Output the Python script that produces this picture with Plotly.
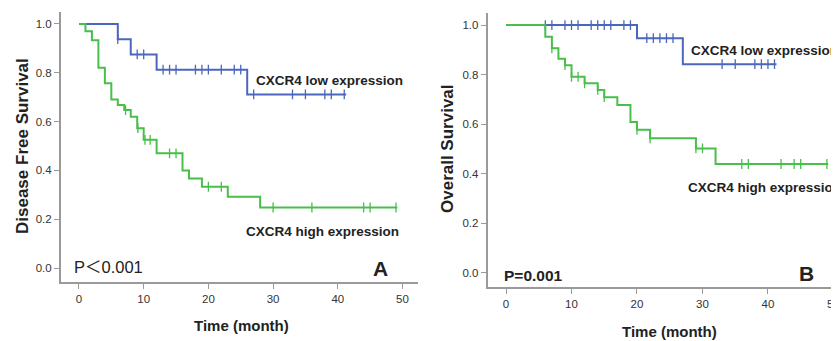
import plotly.graph_objects as go

# ---------------- Data ----------------
# Panel A: Disease free survival
a_low_t = [0, 6, 8, 12, 26]
a_low_s = [1.0, 0.9375, 0.875, 0.8125, 0.711]
a_low_end = 41.3
a_low_cens_t = [6, 9, 10, 13, 14, 15, 18, 19, 20, 22, 24, 25, 27, 33, 35, 38, 39, 41]
a_low_cens_s = [0.9375, 0.875, 0.875, 0.8125, 0.8125, 0.8125, 0.8125, 0.8125, 0.8125,
                0.8125, 0.8125, 0.8125, 0.711, 0.711, 0.711, 0.711, 0.711, 0.711]

a_high_t = [0, 1, 2, 3, 4, 5, 6, 7, 8, 9, 10, 12, 16, 17, 19, 23, 28]
a_high_s = [1.0, 0.97, 0.933, 0.82, 0.757, 0.69, 0.668, 0.647, 0.62, 0.573, 0.525,
            0.47, 0.40, 0.367, 0.333, 0.292, 0.248]
a_high_end = 49.2
a_high_cens_t = [7.2, 9.1, 10.2, 11, 14, 15, 20, 22, 30, 36, 44, 45, 49]
a_high_cens_s = [0.647, 0.573, 0.525, 0.525, 0.47, 0.47, 0.333, 0.333, 0.248, 0.248,
                 0.248, 0.248, 0.248]

# Panel B: Overall survival
b_low_t = [0, 20, 27]
b_low_s = [1.0, 0.947, 0.842]
b_low_end = 41.3
b_low_cens_t = [6, 7, 9, 10, 11, 13, 14, 15, 16, 18, 19, 21.5, 22.5, 23.5, 24.5, 25.5,
                33, 35, 38, 39, 40, 41]
b_low_cens_s = [1.0] * 11 + [0.947] * 5 + [0.842] * 6

b_high_t = [0, 6, 7, 8, 9, 10, 12, 14, 15, 17, 19, 20, 22, 29, 32]
b_high_s = [1.0, 0.953, 0.906, 0.864, 0.838, 0.791, 0.765, 0.738, 0.709, 0.677,
            0.609, 0.577, 0.543, 0.502, 0.439]
b_high_end = 49.2
b_high_cens_t = [7, 9, 10, 11, 12, 14, 15, 20, 22, 29, 30, 36, 37, 42, 44, 45, 49]
b_high_cens_s = [0.906, 0.838, 0.791, 0.791, 0.765, 0.738, 0.709, 0.577, 0.543, 0.502,
                 0.502, 0.439, 0.439, 0.439, 0.439, 0.439, 0.439]

x_ticks = [0, 10, 20, 30, 40, 50]
y_ticks = [0.0, 0.2, 0.4, 0.6, 0.8, 1.0]

BLUE = "#4a67bd"
GREEN = "#47bf4a"
AXIS = "#9a9a9a"
TXT = "#333333"

fig = go.Figure()


def add_curve(t, s, end, ct, cs, color, xa, ya):
    fig.add_trace(go.Scatter(x=t + [end], y=s + [s[-1]], mode="lines",
                             line=dict(color=color, width=2, shape="hv"),
                             xaxis=xa, yaxis=ya, showlegend=False, hoverinfo="skip"))
    fig.add_trace(go.Scatter(x=ct, y=cs, mode="markers",
                             marker=dict(symbol="line-ns", size=7,
                                         line=dict(color=color, width=1.3)),
                             xaxis=xa, yaxis=ya, showlegend=False, hoverinfo="skip"))


add_curve(a_low_t, a_low_s, a_low_end, a_low_cens_t, a_low_cens_s, BLUE, "x", "y")
add_curve(a_high_t, a_high_s, a_high_end, a_high_cens_t, a_high_cens_s, GREEN, "x", "y")
add_curve(b_low_t, b_low_s, b_low_end, b_low_cens_t, b_low_cens_s, BLUE, "x2", "y2")
add_curve(b_high_t, b_high_s, b_high_end, b_high_cens_t, b_high_cens_s, GREEN, "x2", "y2")

# The page body has an 8px margin, so the figure sits at (8, 8) in the window.
OFF = 8
W, H = 839 - OFF, 341 - OFF


def xd(px):
    return (px - OFF) / W


def yd(py):
    return 1 - (py - OFF) / H


FONT = "Liberation Sans, Arial"

common_x = dict(tickvals=x_ticks, showgrid=False, zeroline=False, showline=True,
                linecolor=AXIS, linewidth=2, ticks="outside", ticklen=5, tickwidth=1.2,
                tickcolor=AXIS, tickfont=dict(family=FONT, size=11.5, color=TXT),
                ticklabeloverflow="allow", fixedrange=True)
common_y = dict(tickvals=y_ticks, tickformat=".1f", showgrid=False, zeroline=False,
                showline=True, linecolor=AXIS, linewidth=2, ticks="outside", ticklen=5,
                tickwidth=1.2, tickcolor=AXIS,
                tickfont=dict(family=FONT, size=11.5, color=TXT),
                fixedrange=True)

fig.update_layout(
    width=W, height=H,
    margin=dict(l=0, r=0, t=0, b=0),
    paper_bgcolor="white", plot_bgcolor="white",
    xaxis=dict(common_x, domain=[xd(61), xd(418)], range=[-2.78, 52.4], anchor="y"),
    yaxis=dict(common_y, domain=[yd(281.7), yd(11.7)], range=[-0.056, 1.05], anchor="x"),
    xaxis2=dict(common_x, domain=[xd(487.7), 1.0], range=[-2.8, 50.85], anchor="y2"),
    yaxis2=dict(common_y, domain=[yd(286.7), yd(12.7)], range=[-0.0565, 1.05], anchor="x2"),
)


def ann(text, x, y, size, bold=True, angle=0, xanchor="left", family=FONT, color="#222222"):
    t = f"<b>{text}</b>" if bold else text
    fig.add_annotation(text=t, x=xd(x), y=yd(y), xref="paper", yref="paper",
                       xanchor=xanchor, yanchor="middle", showarrow=False,
                       textangle=angle, borderpad=0,
                       font=dict(family=family, size=size, color=color))


ann("Disease Free Survival", 22, 146, 17, angle=-90, xanchor="center")
ann("Overall Survival", 447, 149, 17, angle=-90, xanchor="center")
ann("Time (month)", 241, 325, 15, xanchor="center")
ann("Time (month)", 669, 331, 15, xanchor="center")

ann("CXCR4 low expression", 255, 80, 13.5)
ann("CXCR4 high expression", 245, 231, 13.5)
ann("CXCR4 low expression", 690, 50, 13.5)
ann("CXCR4 high expression", 687, 187, 13.5)

ann("P＜0.001", 73, 267, 16.5, bold=False, family="Liberation Sans, Arial, Noto Sans CJK SC")
ann("P=0.001", 503, 275, 15.5)
ann("A", 372, 268, 21)
ann("B", 798, 273, 21)

fig.write_html("out.html")
